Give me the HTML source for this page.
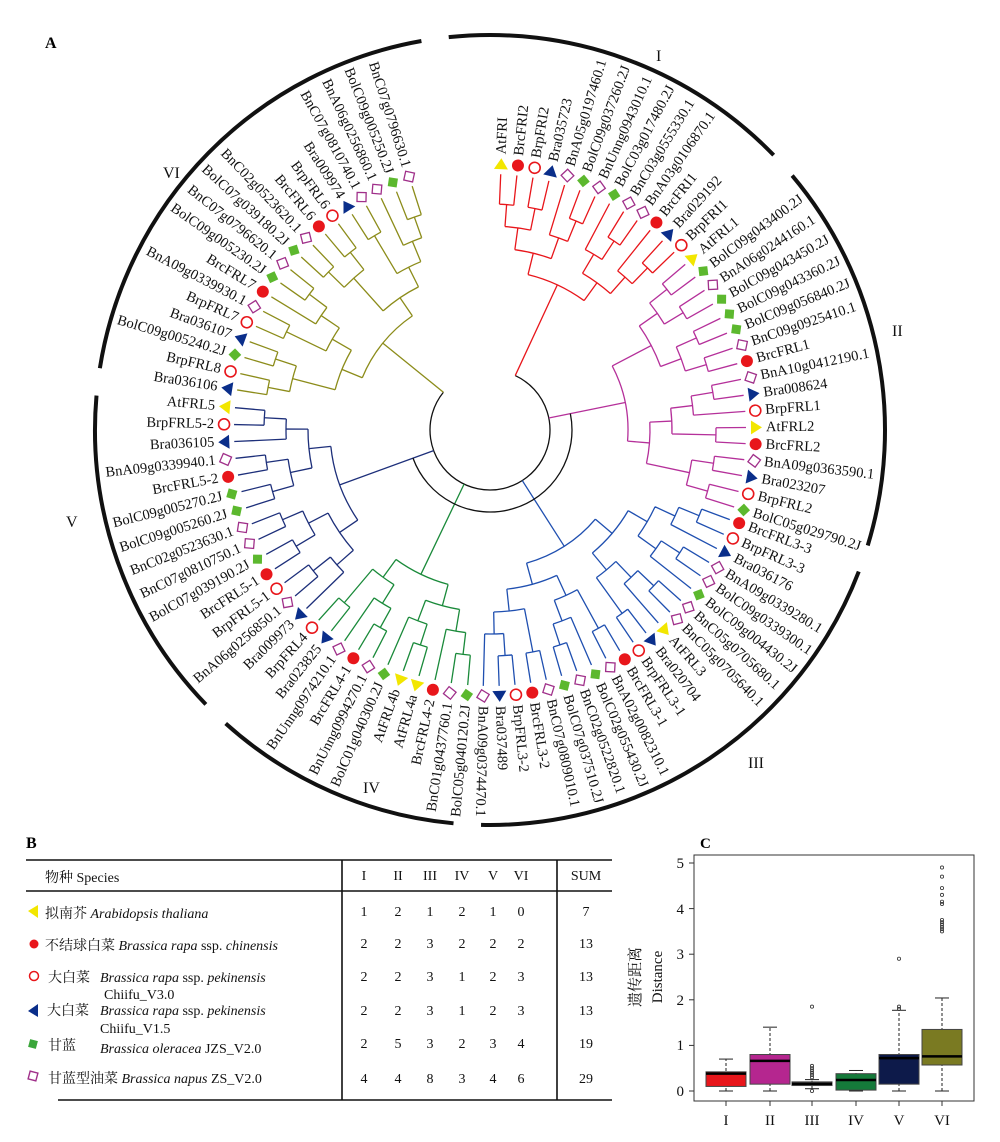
<!DOCTYPE html>
<html><head><meta charset="utf-8"><style>
body{margin:0;background:#fff;}
svg{display:block;font-family:"Liberation Serif","Noto Serif CJK SC",serif;}
.lb text{font-size:14.5px;dominant-baseline:central;fill:#111;}
.t{font-size:14px;fill:#111;}
</style></head><body>
<svg id="s" width="1000" height="1142" viewBox="0 0 1000 1142" xmlns="http://www.w3.org/2000/svg">
<text x="45" y="48" font-weight="bold" font-size="16">A</text>
<g id="tree" transform="translate(490,430)"></g>
<g transform="translate(490,430)" fill="none" stroke="#111" stroke-width="4">
<path id="arcs"/>
</g>
<g font-size="16" fill="#111">
<text x="656" y="61">I</text><text x="892" y="336">II</text><text x="748" y="768">III</text><text x="363" y="793">IV</text><text x="66" y="527">V</text><text x="163" y="178">VI</text>
</g>
<g class="lb" id="lb" transform="translate(490,430)">
<text>AtFRI</text>
<text>BrcFRI2</text>
<text>BrpFRI2</text>
<text>Bra035723</text>
<text>BnA05g0197460.1</text>
<text>BolC09g037260.2J</text>
<text>BnUnng0943010.1</text>
<text>BolC03g017480.2J</text>
<text>BnC03g0555330.1</text>
<text>BnA03g0106870.1</text>
<text>BrcFRI1</text>
<text>Bra029192</text>
<text>BrpFRI1</text>
<text>AtFRL1</text>
<text>BolC09g043400.2J</text>
<text>BnA06g0244160.1</text>
<text>BolC09g043450.2J</text>
<text>BolC09g043360.2J</text>
<text>BolC09g056840.2J</text>
<text>BnC09g0925410.1</text>
<text>BrcFRL1</text>
<text>BnA10g0412190.1</text>
<text>Bra008624</text>
<text>BrpFRL1</text>
<text>AtFRL2</text>
<text>BrcFRL2</text>
<text>BnA09g0363590.1</text>
<text>Bra023207</text>
<text>BrpFRL2</text>
<text>BolC05g029790.2J</text>
<text>BrcFRL3-3</text>
<text>BrpFRL3-3</text>
<text>Bra036176</text>
<text>BnA09g0339280.1</text>
<text>BolC09g0339300.1</text>
<text>BolC09g004430.2J</text>
<text>BnC05g0705680.1</text>
<text>BnC05g0705640.1</text>
<text>AtFRL3</text>
<text>Bra020704</text>
<text>BrpFRL3-1</text>
<text>BrcFRL3-1</text>
<text>BnA02g0082310.1</text>
<text>BolC02g055430.2J</text>
<text>BnC02g0522820.1</text>
<text>BolC07g037510.2J</text>
<text>BnC07g0809010.1</text>
<text>BrcFRL3-2</text>
<text>BrpFRL3-2</text>
<text>Bra037489</text>
<text>BnA09g0374470.1</text>
<text>BolC05g040120.2J</text>
<text>BnC01g0437760.1</text>
<text>BrcFRL4-2</text>
<text>AtFRL4a</text>
<text>AtFRL4b</text>
<text>BolC01g040300.2J</text>
<text>BnUnng0994270.1</text>
<text>BrcFRL4-1</text>
<text>BnUnng0974210.1</text>
<text>Bra023825</text>
<text>BrpFRL4</text>
<text>Bra009973</text>
<text>BnA06g0256850.1</text>
<text>BrpFRL5-1</text>
<text>BrcFRL5-1</text>
<text>BolC07g039190.2J</text>
<text>BnC07g0810750.1</text>
<text>BnC02g0523630.1</text>
<text>BolC09g005260.2J</text>
<text>BolC09g005270.2J</text>
<text>BrcFRL5-2</text>
<text>BnA09g0339940.1</text>
<text>Bra036105</text>
<text>BrpFRL5-2</text>
<text>AtFRL5</text>
<text>Bra036106</text>
<text>BrpFRL8</text>
<text>BolC09g005240.2J</text>
<text>Bra036107</text>
<text>BrpFRL7</text>
<text>BnA09g0339930.1</text>
<text>BrcFRL7</text>
<text>BolC09g005230.2J</text>
<text>BnC07g0796620.1</text>
<text>BolC07g039180.2J</text>
<text>BnC02g0523620.1</text>
<text>BrcFRL6</text>
<text>BrpFRL6</text>
<text>Bra009974</text>
<text>BnC07g0810740.1</text>
<text>BnA06g0256860.1</text>
<text>BolC09g005250.2J</text>
<text>BnC07g0796630.1</text>
</g>

<!-- Panel B -->
<text x="26" y="848" font-weight="bold" font-size="16">B</text>
<g stroke="#111" stroke-width="1.6">
<line x1="26" y1="860" x2="612" y2="860"/>
<line x1="26" y1="891" x2="612" y2="891"/>
<line x1="58" y1="1100" x2="612" y2="1100"/>
<line x1="342" y1="860" x2="342" y2="1100"/>
<line x1="557" y1="860" x2="557" y2="1100"/>
</g>
<g class="t">
<text x="45" y="882">物种 Species</text>
<g text-anchor="middle">
<text x="364" y="880">I</text><text x="398" y="880">II</text><text x="430" y="880">III</text><text x="462" y="880">IV</text><text x="493" y="880">V</text><text x="521" y="880">VI</text><text x="586" y="880">SUM</text>
<text x="364" y="916">1</text><text x="398" y="916">2</text><text x="430" y="916">1</text><text x="462" y="916">2</text><text x="493" y="916">1</text><text x="521" y="916">0</text><text x="586" y="916">7</text>
<text x="364" y="948">2</text><text x="398" y="948">2</text><text x="430" y="948">3</text><text x="462" y="948">2</text><text x="493" y="948">2</text><text x="521" y="948">2</text><text x="586" y="948">13</text>
<text x="364" y="981">2</text><text x="398" y="981">2</text><text x="430" y="981">3</text><text x="462" y="981">1</text><text x="493" y="981">2</text><text x="521" y="981">3</text><text x="586" y="981">13</text>
<text x="364" y="1015">2</text><text x="398" y="1015">2</text><text x="430" y="1015">3</text><text x="462" y="1015">1</text><text x="493" y="1015">2</text><text x="521" y="1015">3</text><text x="586" y="1015">13</text>
<text x="364" y="1048">2</text><text x="398" y="1048">5</text><text x="430" y="1048">3</text><text x="462" y="1048">2</text><text x="493" y="1048">3</text><text x="521" y="1048">4</text><text x="586" y="1048">19</text>
<text x="364" y="1083">4</text><text x="398" y="1083">4</text><text x="430" y="1083">8</text><text x="462" y="1083">3</text><text x="493" y="1083">4</text><text x="521" y="1083">6</text><text x="586" y="1083">29</text>
</g>
<text x="45" y="918">拟南芥 <tspan font-style="italic">Arabidopsis thaliana</tspan></text>
<text x="45" y="950">不结球白菜 <tspan font-style="italic">Brassica rapa</tspan> ssp. <tspan font-style="italic">chinensis</tspan></text>
<text x="48" y="982">大白菜</text><text x="100" y="982"><tspan font-style="italic">Brassica rapa</tspan> ssp. <tspan font-style="italic">pekinensis</tspan></text>
<text x="104" y="999">Chiifu_V3.0</text>
<text x="47" y="1015">大白菜</text><text x="100" y="1015"><tspan font-style="italic">Brassica rapa</tspan> ssp. <tspan font-style="italic">pekinensis</tspan></text>
<text x="100" y="1033">Chiifu_V1.5</text>
<text x="48" y="1050">甘蓝</text><text x="100" y="1053" font-style="italic">Brassica oleracea <tspan font-style="normal">JZS_V2.0</tspan></text>
<text x="48" y="1083">甘蓝型油菜 <tspan font-style="italic">Brassica napus</tspan> ZS_V2.0</text>
</g>
<polygon points="38,905 38,918 28,911" fill="#f2e600"/>
<circle cx="34" cy="944" r="4.5" fill="#e8161b"/>
<circle cx="34" cy="976" r="4.5" fill="none" stroke="#e8161b" stroke-width="1.5"/>
<polygon points="38,1004 38,1017 28,1011" fill="#0a2e8a"/>
<rect x="29" y="1040" width="8" height="8" fill="#3aa63a" transform="rotate(15 33 1044)"/>
<rect x="29" y="1072" width="8" height="8" fill="none" stroke="#a0308a" stroke-width="1.4" transform="rotate(15 33 1076)"/>

<!-- Panel C -->
<text x="700" y="848" font-weight="bold" font-size="15">C</text>
<rect x="694" y="855" width="280" height="246" fill="none" stroke="#333" stroke-width="1"/>
<g id="box"></g>
<g font-size="15" fill="#111" text-anchor="end">
<text x="684" y="1096">0</text><text x="684" y="1050">1</text><text x="684" y="1005">2</text><text x="684" y="959">3</text><text x="684" y="914">4</text><text x="684" y="868">5</text>
</g>
<g font-size="15" fill="#111" text-anchor="middle">
<text x="726" y="1125">I</text><text x="770" y="1125">II</text><text x="812" y="1125">III</text><text x="856" y="1125">IV</text><text x="899" y="1125">V</text><text x="942" y="1125">VI</text>
</g>
<g font-size="15" fill="#111" text-anchor="middle">
<text transform="translate(640,977) rotate(-90)">遗传距离</text>
<text transform="translate(662,977) rotate(-90)">Distance</text>
</g>
</svg>
<script>
(function(){
var NS="http://www.w3.org/2000/svg";
function el(p,n,a){var e=document.createElementNS(NS,n);for(var k in a)e.setAttribute(k,a[k]);p.appendChild(e);return e;}
var types="Acpbnononncbp"+"AonoooncnbpAcnbpo"+"cpbnnonnAbpcnononcpbn"+"oncAAoncnbp"+"bnpconnoocnbpA"+"bpobpncononcpbnnon";
var clades=[[13,"#e8161b",2.4,46],[17,"#b5309a",49.7,107.5],[21,"#1f4fb0",110.5,181.5],[11,"#1a8a3a",185,222],[14,"#1d2f7a",225.8,275],[18,"#8c8c1a",279,342.3]];
var A=[];clades.forEach(function(c){for(var j=0;j<c[0];j++)A.push(c[2]+(c[3]-c[2])*j/(c[0]-1));});
function ang(i){return A[i];}
var lts=document.getElementById("lb").getElementsByTagName("text");
for(var i=0;i<lts.length;i++){var th=A[i];
 if(th<184){lts[i].setAttribute("transform","rotate("+(th-90)+")");lts[i].setAttribute("x","276");}
 else{lts[i].setAttribute("transform","rotate("+(th-270)+")");lts[i].setAttribute("x","-276");lts[i].setAttribute("text-anchor","end");}}
var tree=document.getElementById("tree");
function pt(r,th){var a=(th-90)*Math.PI/180;return [r*Math.cos(a),r*Math.sin(a)];}
function arc(r,a1,a2){var p=pt(r,a1),q=pt(r,a2);return "M"+p[0]+" "+p[1]+"A"+r+" "+r+" 0 "+((a2-a1)>180?1:0)+" 1 "+q[0]+" "+q[1];}
var TIP=256;
function build(s,e,col){
 if(e-s==1)return{a:ang(s),r:TIP,h:0};
 var m=s+Math.floor((e-s)/2);if((e-s)%2==1&&s%3==0)m=s+Math.ceil((e-s)/2);
 var L=build(s,m,col),R=build(m,e,col);
 var h=Math.max(L.h,R.h)+1;var r=TIP-22*h-8;
 var d=arc(r,L.a,R.a);
 [L,R].forEach(function(c){var p=pt(r,c.a),q=pt(c.r,c.a);d+="M"+p[0]+" "+p[1]+"L"+q[0]+" "+q[1];});
 el(tree,"path",{d:d,fill:"none",stroke:col,"stroke-width":1.3});
 return{a:(L.a+R.a)/2,r:r,h:h};
}
var idx=0,roots=[];
clades.forEach(function(c){var n=build(idx,idx+c[0],c[1]);roots.push([n,c[1]]);idx+=c[0];});
el(tree,"path",{d:arc(60,roots[0][0].a,roots[5][0].a),fill:"none",stroke:"#111","stroke-width":1.3});
roots.forEach(function(x){var n=x[0];var p=pt(60,n.a),q=pt(n.r,n.a);
 el(tree,"path",{d:"M"+p[0]+" "+p[1]+"L"+q[0]+" "+q[1],stroke:x[1],"stroke-width":1.3});});
el(tree,"path",{d:arc(82,roots[1][0].a,roots[4][0].a),fill:"none",stroke:"#111","stroke-width":1.3});
for(var i=0;i<A.length;i++){
 var th=ang(i),g=el(tree,"g",{transform:"rotate("+(th-90)+") translate(266,0)"});
 var t=types[i];
 if(t=="A")el(g,"polygon",{points:"-5,-7 -5,7 6,0",fill:"#f2e600"});
 else if(t=="b")el(g,"polygon",{points:"-5,-7 -5,7 6,0",fill:"#0a2e8a"});
 else if(t=="c")el(g,"circle",{r:6,fill:"#e8161b"});
 else if(t=="p")el(g,"circle",{r:5.5,fill:"none",stroke:"#e8161b","stroke-width":1.6});
 else if(t=="o")el(g,"rect",{x:-4.5,y:-4.5,width:9,height:9,fill:"#5cb82e",transform:"rotate(30)"});
 else el(g,"rect",{x:-4.5,y:-4.5,width:9,height:9,fill:"none",stroke:"#a0308a","stroke-width":1.3,transform:"rotate(30)"});
}
var gaps=[47.9,109,183.3,224,277,352];var d="";
for(var k=0;k<6;k++){var a1=gaps[(k+5)%6]+2,a2=gaps[k]-2;if(k==0)a1=352+2-360;d+=arc(395,a1,a2);}
document.getElementById("arcs").setAttribute("d",d);
var B=document.getElementById("box");
function Y(v){return 1091-45.6*v;}
var bx=[[726,0,.1,.38,.42,.7,"#e8161b",[]],[770,0,.15,.66,.8,1.4,"#b5268f",[]],[812,.05,.12,.16,.2,.25,"#bbb",[.3,.35,.4,.45,.5,.55,1.85,0]],
[856,0,.02,.24,.38,.45,"#157a3a",[]],[899,0,.15,.72,.8,1.77,"#0d1a4a",[1.8,1.85,2.9]],[942,0,.57,.76,1.35,2.04,"#7a7a22",[3.5,3.55,3.6,3.65,3.7,3.75,4.1,4.15,4.3,4.45,4.7,4.9]]];
bx.forEach(function(b){var x=b[0];
 el(B,"line",{x1:x,x2:x,y1:Y(b[1]),y2:Y(b[5]),stroke:"#222","stroke-dasharray":"3,2"});
 el(B,"line",{x1:x-7,x2:x+7,y1:Y(b[1]),y2:Y(b[1]),stroke:"#222"});
 el(B,"line",{x1:x-7,x2:x+7,y1:Y(b[5]),y2:Y(b[5]),stroke:"#222"});
 el(B,"rect",{x:x-20,y:Y(b[4]),width:40,height:Y(b[2])-Y(b[4]),fill:b[6],stroke:"#444"});
 el(B,"line",{x1:x-20,x2:x+20,y1:Y(b[3]),y2:Y(b[3]),stroke:"#000","stroke-width":2.5});
 b[7].forEach(function(o){el(B,"circle",{cx:x,cy:Y(o),r:1.6,fill:"none",stroke:"#333","stroke-width":.8});});
 el(B,"line",{x1:x,x2:x,y1:1101,y2:1106,stroke:"#333"});
});
for(var v=0;v<=5;v++)el(B,"line",{x1:689,x2:694,y1:Y(v),y2:Y(v),stroke:"#333"});
})();
</script>
</body></html>
